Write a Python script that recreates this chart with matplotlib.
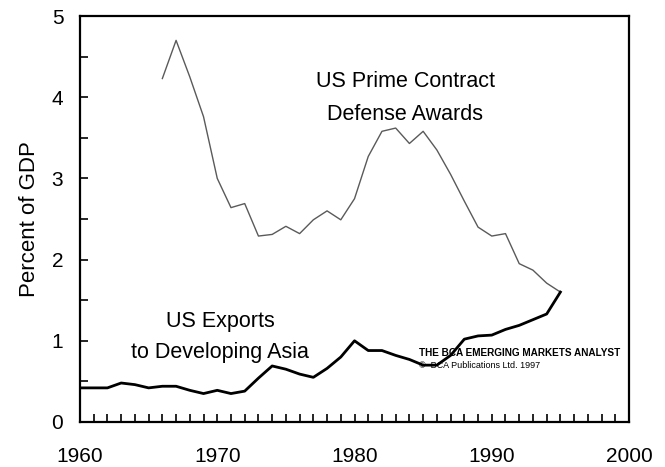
import numpy as np
import matplotlib.pyplot as plt
from matplotlib.ticker import MultipleLocator

plt.rcParams['font.family'] = ['Liberation Sans', 'DejaVu Sans']

## defense awards, % of GDP
defense_years = np.arange(1966, 1996)
defense_vals = [4.23, 4.70, 4.25, 3.76, 3.00, 2.64, 2.69, 2.29, 2.31, 2.41,
                2.32, 2.49, 2.60, 2.49, 2.75, 3.27, 3.58, 3.62, 3.43, 3.58,
                3.35, 3.05, 2.72, 2.40, 2.29, 2.32, 1.95, 1.87, 1.71, 1.60]

## exports to developing asia, % of GDP
export_years = np.arange(1960, 1996)
export_vals = [0.42, 0.42, 0.42, 0.48, 0.46, 0.42, 0.44, 0.44, 0.39, 0.35,
               0.39, 0.35, 0.38, 0.54, 0.69, 0.65, 0.59, 0.55, 0.66, 0.80,
               1.00, 0.88, 0.88, 0.82, 0.77, 0.70, 0.70, 0.82, 1.02, 1.06,
               1.07, 1.14, 1.19, 1.26, 1.33, 1.60]

fig = plt.figure(figsize=(6.65, 4.67), dpi=100)
ax = fig.add_axes([0.1203, 0.0964, 0.8256, 0.8693])

ax.plot(defense_years, defense_vals, color='#5a5a5a', lw=1.0)
ax.plot(export_years, export_vals, color='black', lw=2.0)

ax.set_xlim(1960, 2000)
ax.set_ylim(0, 5)
ax.xaxis.set_major_locator(MultipleLocator(10))
ax.xaxis.set_minor_locator(MultipleLocator(1))
ax.yaxis.set_major_locator(MultipleLocator(1))
ax.yaxis.set_minor_locator(MultipleLocator(0.5))
ax.tick_params(which='both', direction='in', length=6, width=1.2)
ax.tick_params(which='major', labelsize=15)
ax.tick_params(axis='x', which='major', pad=18)
ax.tick_params(axis='y', which='major', pad=12)
for s in ax.spines.values():
    s.set_linewidth(1.6)

ax.set_ylabel("Percent of GDP", fontsize=16, labelpad=8)

ax.text(1983.7, 3.99, "US Prime Contract\nDefense Awards", ha='center', va='center',
        fontsize=15.5, linespacing=1.75)
ax.text(1970.2, 1.05, "US Exports\nto Developing Asia", ha='center', va='center',
        fontsize=15.5, linespacing=1.6)

ax.text(1984.7, 0.85, "THE BCA EMERGING MARKETS ANALYST", fontsize=7.2,
        fontweight='bold', va='center')
ax.text(1984.7, 0.70, "\u00a9  BCA Publications Ltd. 1997", fontsize=6.5, va='center')

fig.savefig("out.png", dpi=100)
